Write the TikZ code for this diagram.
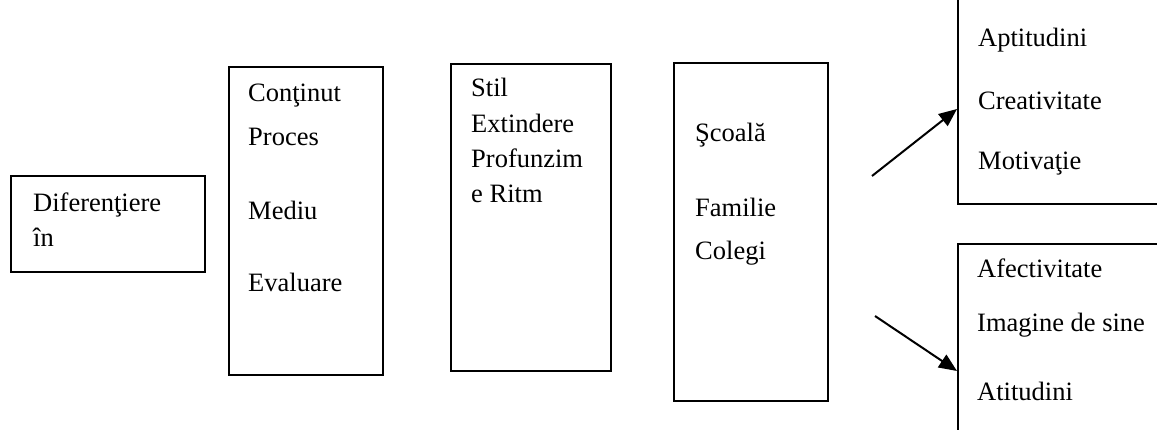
\documentclass[tikz,border=0pt]{standalone}
\usepackage{fontspec}
\setmainfont{Liberation Serif}
\usetikzlibrary{arrows.meta,calc}
\begin{document}
\begin{tikzpicture}[x=1pt,y=-1pt,
  box/.style={draw,line width=2pt,inner sep=0pt,anchor=north west},
  lbl/.style={anchor=base west,inner sep=0pt,font=\fontsize{26.5}{30}\selectfont},
  arr/.style={line width=2pt,-{Triangle[length=18pt,width=15pt]}}]
\useasboundingbox (0,0) rectangle (1157,430);
\clip (0,0) rectangle (1157,430);
% boxes
\node[box,minimum width=194pt,minimum height=96pt] (b1) at (10,175) {};
\node[box,minimum width=154pt,minimum height=308pt] (b2) at (228,66) {};
\node[box,minimum width=160pt,minimum height=307pt] (b3) at (450,63) {};
\node[box,minimum width=154pt,minimum height=338pt] (b4) at (673,62) {};
\node[box,minimum width=220pt,minimum height=210pt] (b5) at (957,-7) {};
\node[box,minimum width=220pt,minimum height=210pt] (b6) at (957,243) {};
% texts
\node[lbl] (t11) at (33,212) {Diferenţiere};
\node[lbl] (t12) at (33,247) {în};
\node[lbl] (t21) at (248,102) {Conţinut};
\node[lbl] (t22) at (248,146) {Proces};
\node[lbl] (t23) at (248,220) {Mediu};
\node[lbl] (t24) at (248,292) {Evaluare};
\node[lbl] (t31) at (471,97) {Stil};
\node[lbl] (t32) at (471,133) {Extindere};
\node[lbl] (t33) at (471,168) {Profunzim};
\node[lbl] (t34) at (471,203) {e Ritm};
\node[lbl] (t41) at (695,142) {Şcoală};
\node[lbl] (t42) at (695,217) {Familie};
\node[lbl] (t43) at (695,260) {Colegi};
\node[lbl] (t51) at (978,47) {Aptitudini};
\node[lbl] (t52) at (978,110) {Creativitate};
\node[lbl] (t53) at (978,170) {Motivaţie};
\node[lbl] (t61) at (977,278) {Afectivitate};
\node[lbl] (t62) at (977,332) {Imagine de sine};
\node[lbl] (t63) at (977,400) {Atitudini};
% arrows
\coordinate (s1) at (872,176);
\coordinate (e1) at (0,109);
\coordinate (s2) at (875,316);
\coordinate (e2) at (0,371);
\draw[arr] (s1) -- (b5.west |- e1);
\draw[arr] (s2) -- (b6.west |- e2);
\end{tikzpicture}
\end{document}
